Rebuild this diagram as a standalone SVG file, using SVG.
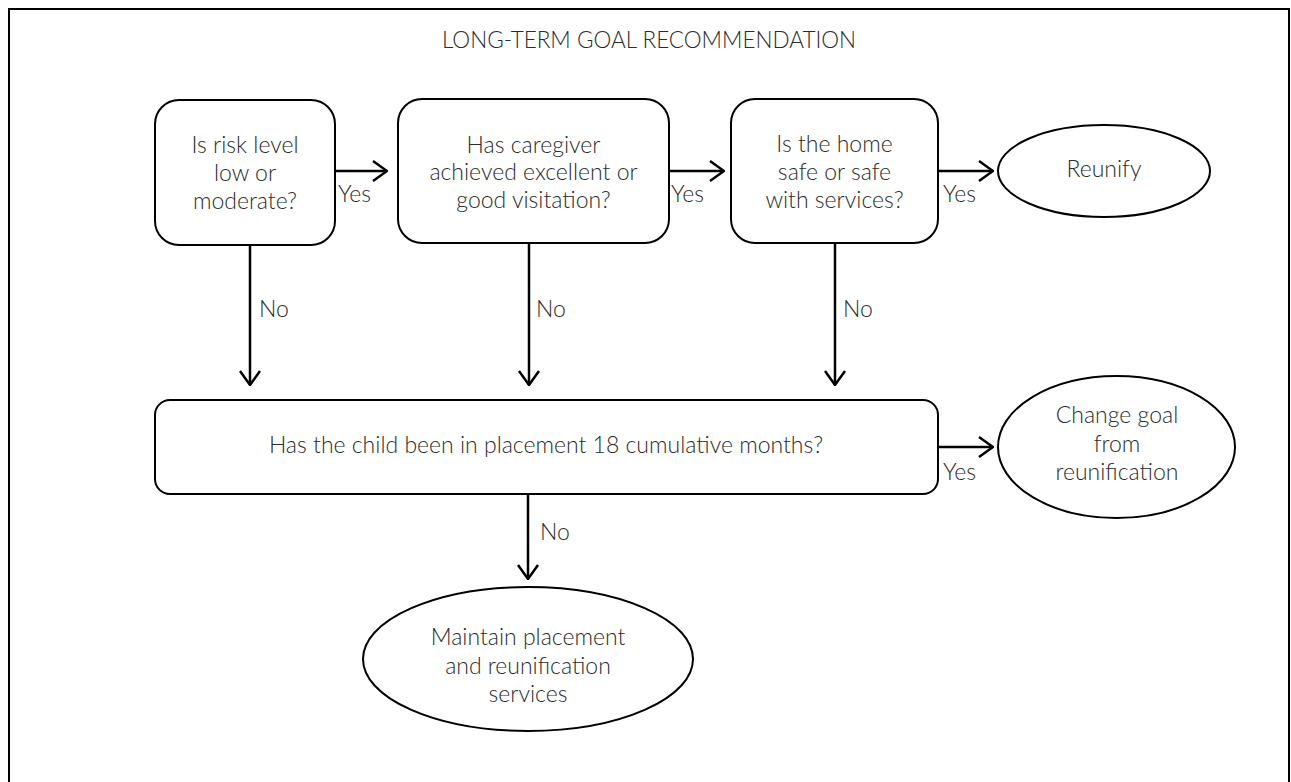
<svg xmlns="http://www.w3.org/2000/svg" width="1291" height="782" viewBox="0 0 1291 782">
<defs>
<style>
text{font-family:"Lato","Open Sans","Liberation Sans",sans-serif;font-weight:300;fill:#2b2b2b;font-size:23px}
.c{text-anchor:middle}
.box{fill:#fff;stroke:#000;stroke-width:2}
.ln{fill:none;stroke:#000;stroke-width:2.5}
</style>
<marker id="ah" viewBox="0 0 16 22" refX="15" refY="11" markerWidth="16" markerHeight="22" markerUnits="userSpaceOnUse" orient="auto">
<path d="M1,1 L15,11 L1,21" fill="none" stroke="#000" stroke-width="2.5"/>
</marker>
</defs>
<rect x="0" y="0" width="1291" height="782" fill="#fff"/>
<rect x="9" y="9" width="1280" height="800" fill="none" stroke="#000" stroke-width="2"/>
<text class="c" x="649" y="48" style="font-size:22.5px">LONG-TERM GOAL RECOMMENDATION</text>
<g id="connectors">
<line class="ln" x1="335" y1="171" x2="387" y2="171" marker-end="url(#ah)"/>
<line class="ln" x1="669" y1="171" x2="724" y2="171" marker-end="url(#ah)"/>
<line class="ln" x1="938" y1="171" x2="993" y2="171" marker-end="url(#ah)"/>
<line class="ln" x1="938" y1="447" x2="993" y2="447" marker-end="url(#ah)"/>
<line class="ln" x1="250" y1="245" x2="250" y2="385" marker-end="url(#ah)"/>
<line class="ln" x1="529" y1="243" x2="529" y2="385" marker-end="url(#ah)"/>
<line class="ln" x1="835" y1="243" x2="835" y2="385" marker-end="url(#ah)"/>
<line class="ln" x1="528" y1="494" x2="528" y2="579" marker-end="url(#ah)"/>
<text x="338" y="202">Yes</text>
<text x="671" y="202">Yes</text>
<text x="943" y="202">Yes</text>
<text x="943" y="480">Yes</text>
<text x="259" y="317">No</text>
<text x="536" y="317">No</text>
<text x="843" y="317">No</text>
<text x="540" y="540">No</text>
</g>
<g id="risk">
<rect class="box" x="155" y="100" width="180" height="145" rx="24"/>
<text class="c" x="245" y="153">Is risk level</text>
<text class="c" x="245" y="181">low or</text>
<text class="c" x="245" y="209">moderate?</text>
</g>
<g id="caregiver">
<rect class="box" x="398" y="99" width="271" height="144" rx="24"/>
<text class="c" x="533.5" y="153">Has caregiver</text>
<text class="c" x="533.5" y="180">achieved excellent or</text>
<text class="c" x="533.5" y="208">good visitation?</text>
</g>
<g id="home">
<rect class="box" x="731" y="99" width="207" height="144" rx="24"/>
<text class="c" x="834.5" y="152">Is the home</text>
<text class="c" x="834.5" y="180">safe or safe</text>
<text class="c" x="834.5" y="208">with services?</text>
</g>
<g id="reunify">
<ellipse class="box" cx="1104" cy="171" rx="106" ry="46"/>
<text class="c" x="1104" y="177">Reunify</text>
</g>
<g id="placement">
<rect class="box" x="155" y="400" width="783" height="94" rx="15"/>
<text class="c" x="546" y="453">Has the child been in placement 18 cumulative months?</text>
</g>
<g id="change">
<ellipse class="box" cx="1116.5" cy="447" rx="118.5" ry="71"/>
<text class="c" x="1117" y="423">Change goal</text>
<text class="c" x="1117" y="452">from</text>
<text class="c" x="1117" y="480">reunification</text>
</g>
<g id="maintain">
<ellipse class="box" cx="528" cy="659" rx="165" ry="72"/>
<text class="c" x="528" y="645">Maintain placement</text>
<text class="c" x="528" y="674">and reunification</text>
<text class="c" x="528" y="702">services</text>
</g>
</svg>
